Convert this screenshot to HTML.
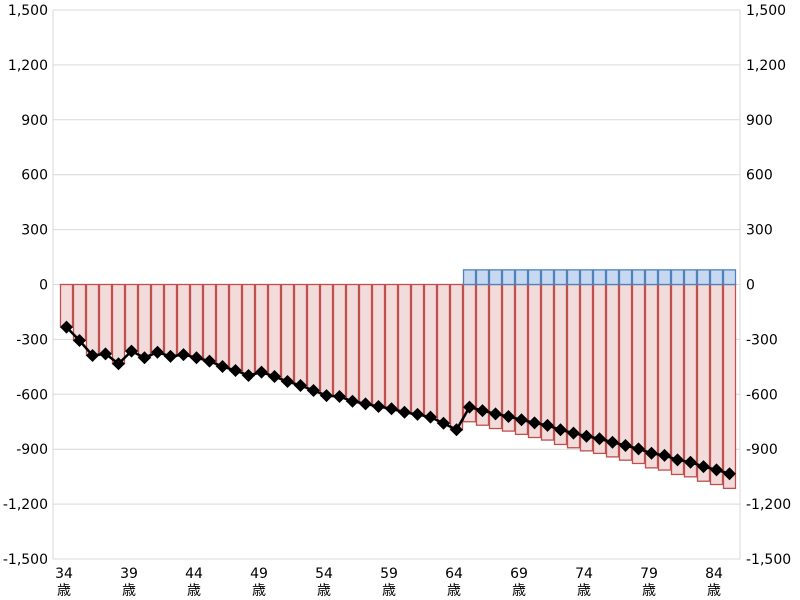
<!DOCTYPE html>
<html><head><meta charset="utf-8"><style>
body{margin:0;background:#fff;}
svg{display:block;font-family:"DejaVu Sans","Noto Sans CJK JP",sans-serif;}
</style></head><body>
<svg id="chart" width="800" height="600"></svg>
<script>
const ages = [];
for (let a = 34; a <= 85; a++) ages.push(a);
const netValues = [-233,-306,-388,-379,-433,-364,-400,-370,-393,-383,-400,-419,-448,-470,-497,-479,-503,-530,-552,-579,-607,-612,-638,-652,-667,-679,-698,-710,-725,-758,-794,
-670,-689,-707,-721,-739,-756,-770,-794,-812,-829,-843,-862,-880,-898,-922,-934,-958,-971,-995,-1013,-1034];
const incomeValues = [0,0,0,0,0,0,0,0,0,0,0,0,0,0,0,0,0,0,0,0,0,0,0,0,0,0,0,0,0,0,0,
80,80,80,80,80,80,80,80,80,80,80,80,80,80,80,80,80,80,80,80,80];
const yTicks = [1500,1200,900,600,300,0,-300,-600,-900,-1200,-1500];
const xTickAges = [34,39,44,49,54,59,64,69,74,79,84];

const NS = "http://www.w3.org/2000/svg";
const svg = document.getElementById('chart');
const top0 = 10, bot0 = 559, xL = 53, xR = 740, barStart = 60, band = 13;
function y(v){ return top0 + (1500 - v) / 3000 * (bot0 - top0); }
function x(i){ return barStart + i * band; }
function mk(tag, attrs){ const e = document.createElementNS(NS, tag); for (const k in attrs) e.setAttribute(k, attrs[k]); svg.appendChild(e); return e; }

yTicks.forEach(t => {
  const g = mk('line', {x1:xL, x2:xR, y1:y(t), y2:y(t), stroke:'#d9d9d9', 'stroke-width':1});
  
  
  const l = mk('text', {x:48, y:y(t)+5, 'text-anchor':'end', 'font-size':14, fill:'#000'});
  l.textContent = t.toLocaleString('en-US');
  
  
  const r = mk('text', {x:746, y:y(t)+5, 'text-anchor':'start', 'font-size':14, fill:'#000'});
  r.textContent = t.toLocaleString('en-US');
  
  
});
const al = mk('line', {x1:xL, x2:xL, y1:top0, y2:bot0, stroke:'#d9d9d9'});


const ar = mk('line', {x1:xR, x2:xR, y1:top0, y2:bot0, stroke:'#d9d9d9'});



ages.forEach((a, i) => {
  const red = netValues[i] - incomeValues[i];
  const rb = mk('rect', {x:x(i)+0.5, y:y(0), width:band-1, height:y(red)-y(0), fill:'#f2dcdb', stroke:'#c0504d', 'stroke-width':1.3});
  
  
  if (incomeValues[i] > 0) {
    const bb = mk('rect', {x:x(i)+0.5, y:y(incomeValues[i]), width:band-1, height:y(0)-y(incomeValues[i]), fill:'#c6d9f1', stroke:'#4f81bd', 'stroke-width':1.3});
    
    
  }
});

const pts = netValues.map((v, i) => (x(i)+band/2) + ',' + y(v)).join(' ');
const pl = mk('polyline', {points:pts, fill:'none', stroke:'#000', 'stroke-width':2.5});


netValues.forEach((v, i) => {
  const cx = x(i)+band/2, cy = y(v), s = 6.5;
  const d = mk('polygon', {points:`${cx},${cy-s} ${cx+s},${cy} ${cx},${cy+s} ${cx-s},${cy}`, fill:'#000'});
  
  
});

xTickAges.forEach(a => {
  const i = ages.indexOf(a);
  const cx = x(i) + 4;
  const t = mk('text', {x:cx, y:578, 'text-anchor':'middle', 'font-size':14, fill:'#000'});
  t.textContent = a;
  
  
  const k = mk('text', {x:cx, y:595, 'text-anchor':'middle', 'font-size':14, fill:'#000'});
  k.textContent = '歳';
  
  
});
</script>
</body></html>
